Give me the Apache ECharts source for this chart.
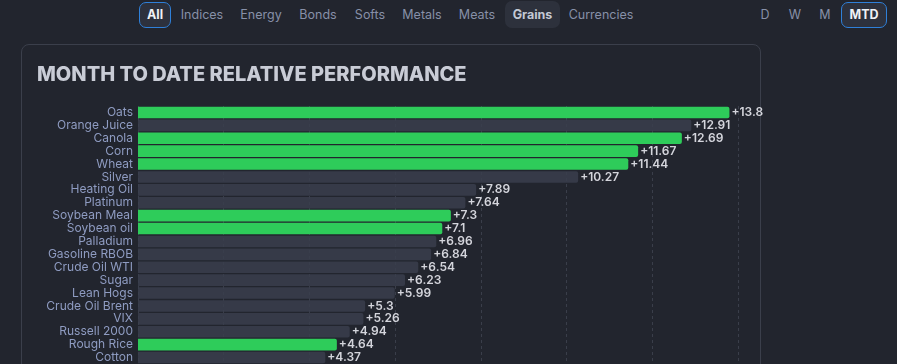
<!DOCTYPE html>
<html>
<head>
<meta charset="utf-8">
<script src="https://cdn.jsdelivr.net/npm/echarts@6/dist/echarts.min.js"></script>
<style>
  html, body { margin:0; padding:0; width:897px; height:364px; overflow:hidden; background:#22252e; font-family: Inter, "Noto Sans", sans-serif; }
  .btn { position:absolute; top:2px; height:26px; line-height:26px; font-size:12.5px; color:#8790a8; text-align:center; box-sizing:border-box; border-radius:7px; }
  .sel { border:1.5px solid #2f80d9; background:#2d313d; color:#f0f2f6; font-weight:700; line-height:23px; }
  .hl { background:#2d313c; color:#c3c8d4; font-weight:700; }
  #card { position:absolute; left:21px; top:44px; width:740px; height:340px; border:1px solid #3b3f4b; border-radius:8px; box-sizing:border-box; }
  #chart { position:absolute; left:0; top:0; width:897px; height:364px; }
</style>
</head>
<body>
<div class="btn sel" style="left:139px;width:32px;">All</div>
<div class="btn" style="left:176px;width:52px;">Indices</div>
<div class="btn" style="left:235px;width:52px;">Energy</div>
<div class="btn" style="left:294px;width:48px;">Bonds</div>
<div class="btn" style="left:348px;width:44px;">Softs</div>
<div class="btn" style="left:398px;width:48px;">Metals</div>
<div class="btn" style="left:452px;width:50px;">Meats</div>
<div class="btn hl" style="left:505px;width:55px;top:1px;height:27px;line-height:27px;">Grains</div>
<div class="btn" style="left:564px;width:74px;">Currencies</div>
<div class="btn" style="left:753px;width:24px;">D</div>
<div class="btn" style="left:783px;width:24px;">W</div>
<div class="btn" style="left:813px;width:24px;">M</div>
<div class="btn sel" style="left:841px;width:46px;">MTD</div>
<div id="card"></div>
<div id="chart"></div>
<script>
const categories = ["Oats","Orange Juice","Canola","Corn","Wheat","Silver","Heating Oil","Platinum","Soybean Meal","Soybean oil","Palladium","Gasoline RBOB","Crude Oil WTI","Sugar","Lean Hogs","Crude Oil Brent","VIX","Russell 2000","Rough Rice","Cotton"];
const values = [13.8,12.91,12.69,11.67,11.44,10.27,7.89,7.64,7.3,7.1,6.96,6.84,6.54,6.23,5.99,5.3,5.26,4.94,4.64,4.37];
const grains = ["Oats","Canola","Corn","Wheat","Soybean Meal","Soybean oil","Rough Rice"];
const xTicks = [0,2,4,6,8,10,12,14];

const chart = echarts.init(document.getElementById('chart'), null, {renderer:'canvas'});
chart.setOption({
  backgroundColor: 'transparent',
  animation: false,
  title: {
    text: 'MONTH TO DATE RELATIVE PERFORMANCE',
    left: 37, top: 65, padding: 0,
    textStyle: { color:'#c9ccd6', fontSize:20, fontWeight:800, fontFamily:'Inter' }
  },
  grid: { left:138, top:106, width:600, height:260, containLabel:false },
  xAxis: {
    type:'value', min:xTicks[0], max:xTicks[xTicks.length-1], interval:2,
    axisLabel:{ show:false }, axisLine:{ show:false }, axisTick:{ show:false },
    splitLine:{ show:true, lineStyle:{ color:'#3a3e4a', type:[3,3], width:1 } }
  },
  yAxis: {
    type:'category', data:categories, inverse:true,
    axisLine:{ show:false }, axisTick:{ show:false },
    axisLabel:{ color:'#8f9cc2', fontSize:12, fontFamily:'Inter', margin:5, interval:0 }
  },
  series: [{
    type:'bar',
    barCategoryGap:'10%',
    data: values.map((v,i)=>({
      value:v,
      itemStyle:{ color: grains.includes(categories[i]) ? '#2ecc5a' : 'rgba(58,62,76,0.85)', borderRadius:[0,2,2,0] }
    })),
    label:{ show:true, position:'right', distance:2, color:'#d4d5dc', fontSize:12, fontWeight:600, fontFamily:'Inter',
      formatter: p => '+' + p.value }
  }]
});
</script>
</body>
</html>
